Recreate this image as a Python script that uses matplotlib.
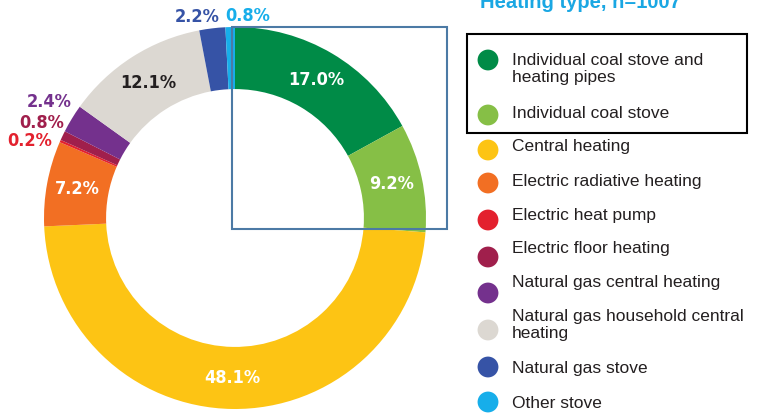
import numpy as np
import matplotlib.pyplot as plt
from matplotlib.patches import Rectangle
from matplotlib import font_manager

# heating type shares (%), clockwise from 12 o'clock
labels = ['Individual coal stove and\nheating pipes', 'Individual coal stove', 'Central heating',
          'Electric radiative heating', 'Electric heat pump', 'Electric floor heating',
          'Natural gas central heating', 'Natural gas household central\nheating',
          'Natural gas stove', 'Other stove']
shares = [17.0, 9.2, 48.1, 7.2, 0.2, 0.8, 2.4, 12.1, 2.2, 0.8]
colors = ['#008b47', '#86bf46', '#fdc414', '#f26f23', '#e3212e', '#a01f4c',
          '#74318d', '#dcd8d2', '#3653a6', '#17aeea']
title = 'Heating type, n=1007'

W, H = 757, 417
cx, cy, R = 235, 218, 191

# pick a narrow bold face for the percentages if one is installed
names = {f.name for f in font_manager.fontManager.ttflist}
lab_kw = dict(fontweight='bold')
if 'Liberation Sans Narrow' in names:
    lab_kw.update(family='Liberation Sans Narrow', fontsize=14)
else:
    lab_kw.update(family='DejaVu Sans', fontstretch='condensed', fontsize=13)

fig = plt.figure(figsize=(W / 100, H / 100), dpi=100)
ax = fig.add_axes([(cx - R) / W, (H - cy - R) / H, 2 * R / W, 2 * R / H])
wedges, _ = ax.pie(shares, colors=colors, startangle=90, counterclock=False, radius=1,
                   wedgeprops=dict(width=0.325, edgecolor='none'))
ax.set_xlim(-1, 1)
ax.set_ylim(-1, 1)
ax.set_aspect('equal')
ax.axis('off')

# big slices: label inside the ring
for i, (w, v) in enumerate(zip(wedges, shares)):
    if v < 5:
        continue
    ang = np.deg2rad((w.theta1 + w.theta2) / 2)
    col = '#231f20' if colors[i] == '#dcd8d2' else 'white'
    ax.text(0.84 * np.cos(ang), 0.84 * np.sin(ang), f'{v:.1f}%', ha='center', va='center',
            color=col, **lab_kw)

# small slices: labels outside, stacked
outside_pos = {4: (-1.075, 0.405), 5: (-1.01, 0.50), 6: (-0.975, 0.607),
               8: (-0.20, 1.052), 9: (0.068, 1.058)}
for i, (x, y) in outside_pos.items():
    ax.text(x, y, f'{shares[i]:.1f}%', ha='center', va='center', color=colors[i],
            clip_on=False, **lab_kw)

# overlay in pixel coordinates for legend and boxes
ov = fig.add_axes([0, 0, 1, 1])
ov.set_xlim(0, W)
ov.set_ylim(H, 0)
ov.axis('off')
ov.patch.set_alpha(0)

ov.add_patch(Rectangle((232, 27), 215, 202, fill=False, edgecolor='#4c7aa5', lw=1.5))
ov.add_patch(Rectangle((467, 34), 280, 99, fill=False, edgecolor='black', lw=1.5))

ov.text(480, 8, title, ha='left', va='baseline', color='#1aa7e3', fontsize=14.5,
        fontweight='bold', family='Liberation Sans')

dot_y = [60, 115, 150, 183, 220, 257, 293, 330, 367, 402]
text_y = [69, 113, 147, 181, 215, 248, 282, 325, 369, 403]
ov.scatter([488] * len(dot_y), dot_y, s=225, c=colors, edgecolors='none')
for lab, y in zip(labels, text_y):
    ov.text(512, y, lab, ha='left', va='center', color='#231f20', fontsize=12.5,
            family='Liberation Sans', linespacing=1.2)

fig.savefig('out.png', dpi=100)
